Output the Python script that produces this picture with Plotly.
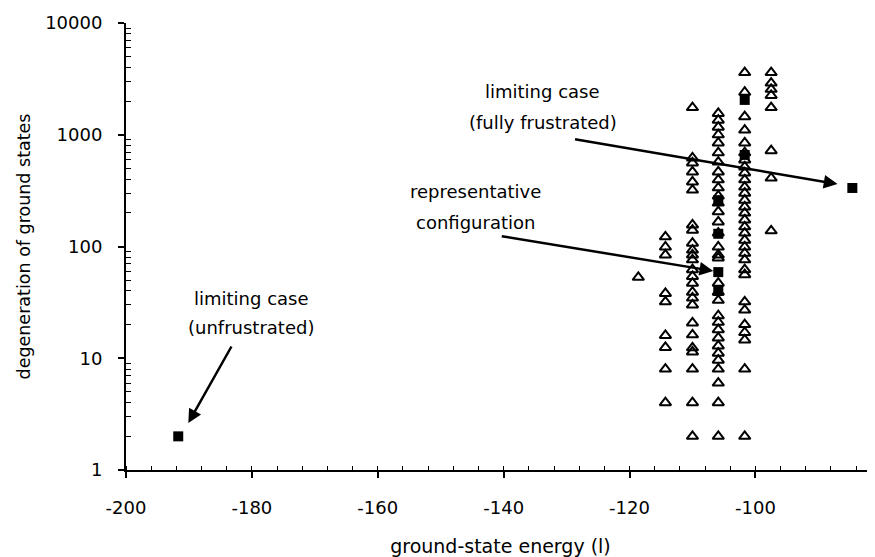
import plotly.graph_objects as go

# ---------------- data ----------------
# energy columns (x) of the random configurations
col_a_x = -118.6
col_b_x = -114.3
col_c_x = -110.0
col_d_x = -105.9
col_e_x = -101.7
col_f_x = -97.5

col_a_deg = [53]
col_b_deg = [122, 99, 84, 38, 32, 16, 12.5, 8, 4]
col_c_deg = [1750, 620, 560, 465, 378, 320, 156, 140, 107, 93, 84, 76, 62, 54,
             47, 39, 34.6, 30, 20.7, 16.2, 12.4, 11.4, 8, 4, 2]
col_d_deg = [1550, 1350, 1170, 1000, 845, 690, 570, 465, 395, 335, 283, 245, 205,
             166, 132, 99, 84, 79, 47, 39, 33, 24, 21, 18, 15.2, 12.9, 11.1, 9.6,
             8, 6, 4, 2]
col_e_deg = [3600, 2400, 1450, 1100, 845, 690, 595, 515, 455, 395, 340, 300, 260,
             226, 199, 173, 150, 132, 114, 99, 87, 76, 62, 56, 32, 27, 20, 17,
             14.6, 8, 2]
col_f_deg = [3600, 2900, 2550, 2250, 1750, 720, 410, 138]

# filled squares: limiting cases, representative configuration, others
square_energy = [-191.7, -105.9, -84.6, -101.7, -101.7, -105.9, -105.9, -105.9]
square_deg = [2, 59, 334, 2050, 660, 260, 130, 40]

x_tick_vals = [-200, -180, -160, -140, -120, -100]
x_tick_text = ["-200", "-180", "-160", "-140", "-120", "-100"]
y_tick_vals = [1, 10, 100, 1000, 10000]
y_tick_text = ["1", "10", "100", "1000", "10000"]

# ---------------- build ----------------
columns = [(col_a_x, col_a_deg), (col_b_x, col_b_deg), (col_c_x, col_c_deg),
           (col_d_x, col_d_deg), (col_e_x, col_e_deg), (col_f_x, col_f_deg)]
tri_x, tri_y = [], []
for cx, vals in columns:
    tri_x += [cx] * len(vals)
    tri_y += vals

FONT = "DejaVu Sans"

fig = go.Figure()
fig.add_trace(go.Scatter(
    x=tri_x, y=tri_y, mode="markers",
    marker=dict(symbol="triangle-up-open", size=10, color="black",
                line=dict(width=2, color="black")),
    showlegend=False, hoverinfo="skip", cliponaxis=False))
fig.add_trace(go.Scatter(
    x=square_energy, y=square_deg, mode="markers",
    marker=dict(symbol="square", size=10, color="black"),
    showlegend=False, hoverinfo="skip", cliponaxis=False))

minor_y = [m * 10 ** e for e in range(4) for m in range(2, 10)]

# the page body has an 8px default margin, so the figure is 8px smaller
fig.update_layout(
    width=867, height=549,
    margin=dict(l=118, r=0, t=15, b=87),
    paper_bgcolor="white", plot_bgcolor="white",
    font=dict(family=FONT, size=18, color="black"),
    xaxis=dict(
        range=[-200, -81], showgrid=False, zeroline=False, automargin=False,
        showline=True, linecolor="black", linewidth=2,
        tickvals=x_tick_vals, ticktext=x_tick_text,
        ticks="outside", ticklen=6, tickwidth=2, tickcolor="black",
        ticklabelstandoff=14,
        minor=dict(dtick=4, tick0=-200, ticks="inside", ticklen=4,
                   tickwidth=1.3, tickcolor="black", showgrid=False),
        tickfont=dict(family=FONT, size=18),
        title=dict(text="ground-state energy (l)", standoff=30,
                   font=dict(family=FONT, size=19)),
    ),
    yaxis=dict(
        type="log", range=[0, 4], showgrid=False, zeroline=False, automargin=False,
        showline=True, linecolor="black", linewidth=2,
        tickvals=y_tick_vals, ticktext=y_tick_text,
        ticks="outside", ticklen=6, tickwidth=2, tickcolor="black",
        ticklabelstandoff=12,
        minor=dict(tickvals=minor_y, ticks="inside", ticklen=5,
                   tickwidth=1.3, tickcolor="black", showgrid=False),
        tickfont=dict(family=FONT, size=18),
        title=dict(text="degeneration of ground states", standoff=10,
                   font=dict(family=FONT, size=17.5)),
    ),
)

arrow_style = dict(xref="x", yref="y", axref="pixel", ayref="pixel",
                   showarrow=True, arrowhead=2, arrowsize=1.1,
                   arrowwidth=2.5, arrowcolor="black", text="")
fig.add_annotation(x=-86.96, y=2.559, ax=-264, ay=-45, **arrow_style)
fig.add_annotation(x=-106.7, y=1.781, ax=-213, ay=-35, **arrow_style)
fig.add_annotation(x=-190.1, y=0.4206, ax=44, ay=-78, **arrow_style)

labels = [
    ("limiting case", -133.9, 3.383),
    ("(fully frustrated)", -133.7, 3.114),
    ("representative", -144.4, 2.488),
    ("configuration", -144.4, 2.219),
    ("limiting case", -180.1, 1.539),
    ("(unfrustrated)", -180.2, 1.271),
]
for txt, lx, ly in labels:
    fig.add_annotation(x=lx, y=ly, xref="x", yref="y", text=txt,
                       showarrow=False, font=dict(family=FONT, size=18),
                       xanchor="center", yanchor="middle")

fig.write_html("out.html")
